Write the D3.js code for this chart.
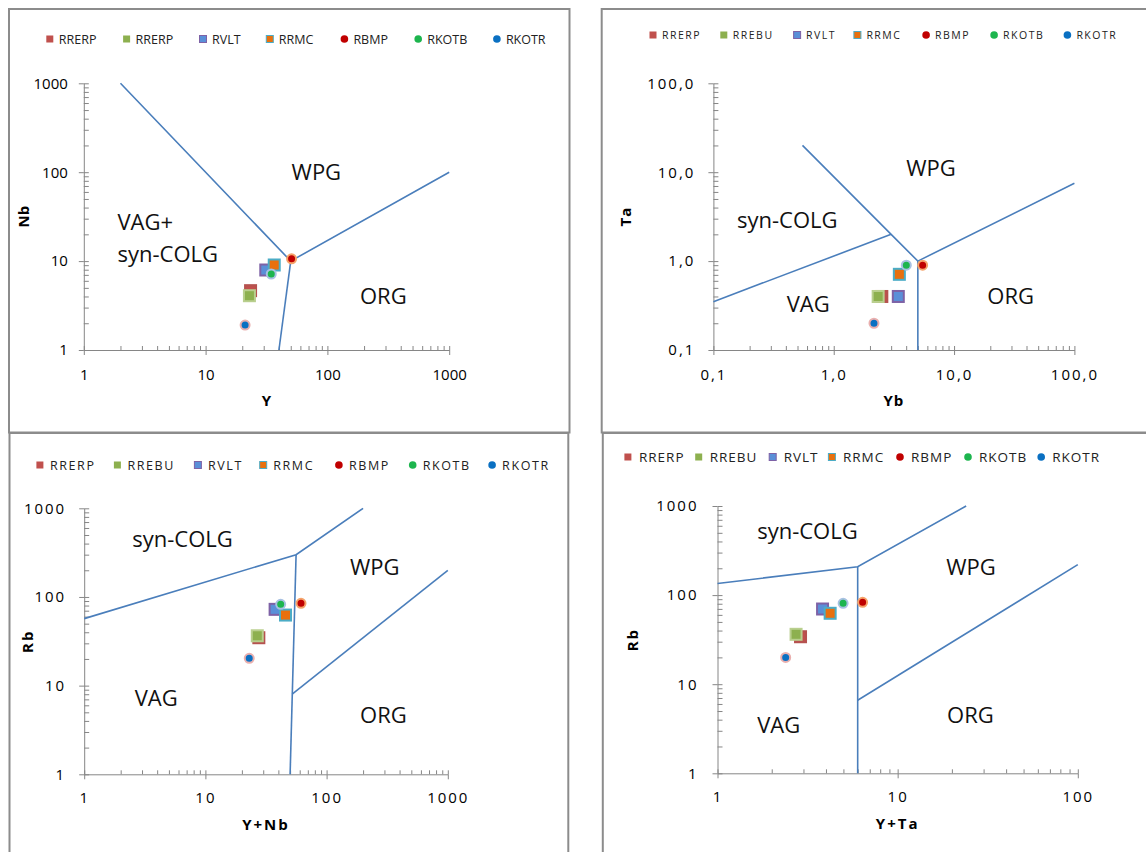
<!DOCTYPE html>
<html>
<head>
<meta charset="utf-8">
<script src="https://cdn.jsdelivr.net/npm/d3@7/dist/d3.min.js"></script>
<style>
  body { margin: 0; background: #fff; }
  svg text { font-family: 'Open Sans', sans-serif; }
</style>
</head>
<body>
<div id="wrapper"></div>
<script>
// Series names (the top-left chart repeats RRERP in its legend)
const namesYNb = ['RRERP', 'RRERP', 'RVLT', 'RRMC', 'RBMP', 'RKOTB', 'RKOTR'];
const seriesNames = ['RRERP', 'RREBU', 'RVLT', 'RRMC', 'RBMP', 'RKOTB', 'RKOTR'];

// Nb vs Y
const yValues = [23.4, 22.9, 31.2, 36.6, 50.8, 34.6, 21.1];
const nbValues = [4.65, 4.08, 7.94, 9.04, 10.6, 7.16, 1.91];
// Ta vs Yb
const ybValues = [2.51, 2.34, 3.44, 3.51, 5.48, 4.01, 2.16];
const taValues = [0.4, 0.4, 0.4, 0.71, 0.9, 0.9, 0.2];
// Rb vs Y+Nb
const yNbValues = [27.6, 26.8, 37.6, 45.8, 61.5, 41.8, 23.0];
const rbValues1 = [34.7, 36.5, 72.5, 62.5, 84.7, 82.6, 20.3];
// Rb vs Y+Ta
const yTaValues = [2.89, 2.73, 3.83, 4.22, 6.39, 4.98, 2.39];
const rbValues2 = [34.1, 36.3, 69.8, 62.5, 83.0, 80.9, 20.0];

// Discrimination boundaries (Pearce et al.)
const linesYNb = [
  [[2, 1000], [50, 10], [1000, 100]],
  [[50, 10], [40, 1]],
];
const linesYbTa = [
  [[0.55, 20], [3, 2], [5, 1], [100, 7.5]],
  [[0.1, 0.35], [3, 2]],
  [[5, 1], [5, 0.1]],
];
const linesYNbRb = [
  [[1, 57], [56, 300], [200, 1000]],
  [[56, 300], [50, 1]],
  [[52, 8], [1000, 200]],
];
const linesYTaRb = [
  [[1, 135], [6, 208], [24, 1000]],
  [[6, 208], [6, 1]],
  [[6, 6.6], [100, 220]],
];

// Field names and where they sit (data units)
const fieldsYNb = [
  ['WPG', 50.8, 81.7], ['VAG+', 1.89, 22.4], ['syn-COLG', 1.89, 9.77], ['ORG', 185, 3.29],
];
const fieldsYbTa = [
  ['WPG', 4.01, 9.06], ['syn-COLG', 0.157, 2.36], ['VAG', 0.406, 0.267], ['ORG', 18.9, 0.329],
];
const fieldsYNbRb = [
  ['syn-COLG', 2.49, 366], ['WPG', 156, 177], ['VAG', 2.61, 5.89], ['ORG', 189, 3.79],
];
const fieldsYTaRb = [
  ['syn-COLG', 1.66, 426], ['WPG', 18.6, 168], ['VAG', 1.66, 2.83], ['ORG', 18.8, 3.67],
];

const ticks1to1000 = [1, 10, 100, 1000];
const ticks01to100 = [0.1, 1, 10, 100];
const ticks1to100 = [1, 10, 100];

const markerStyle = [
  { shape: 'square', fill: '#C0504D', stroke: '#B5524F' },
  { shape: 'square', fill: '#8DB04F', stroke: '#B9CF8E' },
  { shape: 'square', fill: '#5A8FD8', stroke: '#7E62A6' },
  { shape: 'square', fill: '#E8700E', stroke: '#4BACC6' },
  { shape: 'circle', fill: '#C00000', stroke: '#F5A36A' },
  { shape: 'circle', fill: '#1DB54E', stroke: '#A8C1E2' },
  { shape: 'circle', fill: '#0A70C2', stroke: '#E9AFAE' },
];

const commaFmt = (d) => d3.format('.1f')(d).replace('.', ',');

const panels = [
  {
    names: namesYNb, xs: yValues, ys: nbValues, lines: linesYNb, fields: fieldsYNb,
    xTicks: ticks1to1000, yTicks: ticks1to1000, fmt: (d) => d,
    xTitle: 'Y', yTitle: 'Nb',
    frame: [9, 9, 569.5, 432.5],
    plot: { left: 83.8, right: 449.2, top: 83.3, bottom: 350 },
    padX: 14, padY: 11, tickSpacing: 0, titleSpacing: 0, yTitleX: 24,
    legendY: 39, legendX: [49.8, 126.6, 203, 269.8, 344.4, 418.2, 496.9],
    legendFont: 12.5, legendSpacing: 0, legendGap: 9,
  },
  {
    names: seriesNames, xs: ybValues, ys: taValues, lines: linesYbTa, fields: fieldsYbTa,
    xTicks: ticks01to100, yTicks: ticks01to100, fmt: commaFmt,
    xTitle: 'Yb', yTitle: 'Ta',
    frame: [601.7, 9, 1160, 432.5],
    plot: { left: 713.4, right: 1074.4, top: 83.3, bottom: 350 },
    padX: 14, padY: 13, tickSpacing: 2, titleSpacing: 1, yTitleX: 626,
    legendY: 35, legendX: [653, 723.8, 797.1, 857.4, 926.1, 994.1, 1067.4],
    legendFont: 10.5, legendSpacing: 1.5, legendGap: 9,
  },
  {
    names: seriesNames, xs: yNbValues, ys: rbValues1, lines: linesYNbRb, fields: fieldsYNbRb,
    xTicks: ticks1to1000, yTicks: ticks1to1000, fmt: (d) => d,
    xTitle: 'Y+Nb', yTitle: 'Rb',
    frame: [9.5, 433, 568.3, 870],
    plot: { left: 84.2, right: 447.8, top: 508.3, bottom: 774.3 },
    padX: 13, padY: 13, tickSpacing: 2, titleSpacing: 2, yTitleX: 27.7,
    legendY: 465, legendX: [39.9, 117.4, 197.9, 263.2, 338.9, 412.7, 492.1],
    legendFont: 12.5, legendSpacing: 1.6, legendGap: 10,
  },
  {
    names: seriesNames, xs: yTaValues, ys: rbValues2, lines: linesYTaRb, fields: fieldsYTaRb,
    xTicks: ticks1to100, yTicks: ticks1to1000, fmt: (d) => d,
    xTitle: 'Y+Ta', yTitle: 'Rb',
    frame: [602.8, 433, 1160, 870],
    plot: { left: 717.5, right: 1077.8, top: 506, bottom: 773.3 },
    padX: 13, padY: 14, tickSpacing: 2, titleSpacing: 2, yTitleX: 633,
    legendY: 457, legendX: [627.9, 698.7, 772.7, 831.9, 900, 968, 1041.2],
    legendFont: 13.5, legendSpacing: 1, legendGap: 11,
  },
];

const svg = d3
  .select('#wrapper')
  .append('svg')
  .attr('width', 1146)
  .attr('height', 852);

svg.append('rect').attr('width', 1146).attr('height', 852).attr('fill', '#fff');

const axisColor = '#868686';
const lineColor = '#4A7EBB';

function minorTicks(majors) {
  const out = [];
  majors.slice(0, -1).forEach((m) => {
    for (let k = 2; k <= 9; k++) out.push(m * k);
  });
  return out;
}

function drawMarker(sel, style, cx, cy, size) {
  if (style.shape === 'square') {
    sel
      .append('rect')
      .attr('x', cx - size / 2)
      .attr('y', cy - size / 2)
      .attr('width', size)
      .attr('height', size)
      .attr('fill', style.fill)
      .attr('stroke', style.stroke)
      .attr('stroke-width', 2);
  } else {
    sel
      .append('circle')
      .attr('cx', cx)
      .attr('cy', cy)
      .attr('r', size / 2 - 1)
      .attr('fill', style.fill)
      .attr('stroke', style.stroke)
      .attr('stroke-width', 2);
  }
}

function drawPanel(p) {
  const g = svg.append('g');

  // frame
  g.append('rect')
    .attr('x', p.frame[0])
    .attr('y', p.frame[1])
    .attr('width', p.frame[2] - p.frame[0])
    .attr('height', p.frame[3] - p.frame[1])
    .attr('fill', 'none')
    .attr('stroke', '#8c8c8c')
    .attr('stroke-width', 2);

  const xScale = d3
    .scaleLog()
    .domain(d3.extent(p.xTicks))
    .range([p.plot.left, p.plot.right]);
  const yScale = d3
    .scaleLog()
    .domain(d3.extent(p.yTicks))
    .range([p.plot.bottom, p.plot.top]);

  // inner ticks (minor + major)
  g.append('g')
    .attr('transform', `translate(0, ${p.plot.bottom})`)
    .call(
      d3.axisBottom(xScale)
        .tickValues(p.xTicks.concat(minorTicks(p.xTicks)))
        .tickSize(-4)
        .tickFormat('')
    )
    .call((s) => s.select('.domain').remove());
  g.append('g')
    .attr('transform', `translate(${p.plot.left}, 0)`)
    .call(
      d3.axisLeft(yScale)
        .tickValues(p.yTicks.concat(minorTicks(p.yTicks)))
        .tickSize(-5)
        .tickFormat('')
    )
    .call((s) => s.select('.domain').remove());

  // major axes
  const xAxis = g
    .append('g')
    .attr('transform', `translate(0, ${p.plot.bottom})`)
    .call(
      d3.axisBottom(xScale)
        .tickValues(p.xTicks)
        .tickSizeInner(5)
        .tickSizeOuter(0)
        .tickPadding(p.padX)
        .tickFormat(p.fmt)
    );
  const yAxis = g
    .append('g')
    .attr('transform', `translate(${p.plot.left}, 0)`)
    .call(
      d3.axisLeft(yScale)
        .tickValues(p.yTicks)
        .tickSizeInner(5)
        .tickSizeOuter(0)
        .tickPadding(p.padY)
        .tickFormat(p.fmt)
    );

  g.selectAll('.tick line, .domain')
    .attr('stroke', axisColor)
    .attr('stroke-width', 1);
  [xAxis, yAxis].forEach((a) =>
    a.selectAll('text')
      .attr('fill', '#000')
      .style('font-size', '15px')
      .style('letter-spacing', p.tickSpacing + 'px')
  );

  // axis titles
  g.append('text')
    .attr('x', (p.plot.left + p.plot.right) / 2)
    .attr('y', p.plot.bottom + 56)
    .attr('text-anchor', 'middle')
    .style('font-size', '15px')
    .style('font-weight', 'bold')
    .style('letter-spacing', p.titleSpacing + 'px')
    .text(p.xTitle);
  g.append('text')
    .attr('transform', `translate(${p.yTitleX}, ${(p.plot.top + p.plot.bottom) / 2}) rotate(-90)`)
    .attr('text-anchor', 'middle')
    .attr('dy', '0.35em')
    .style('font-size', '15px')
    .style('font-weight', 'bold')
    .style('letter-spacing', p.titleSpacing + 'px')
    .text(p.yTitle);

  // boundaries
  const line = d3
    .line()
    .x((d) => xScale(d[0]))
    .y((d) => yScale(d[1]));
  g.selectAll('.boundary')
    .data(p.lines)
    .enter()
    .append('path')
    .attr('class', 'boundary')
    .attr('d', line)
    .attr('fill', 'none')
    .attr('stroke', lineColor)
    .attr('stroke-width', 1.6);

  // field names
  g.selectAll('.field')
    .data(p.fields)
    .enter()
    .append('text')
    .attr('class', 'field')
    .attr('x', (d) => xScale(d[1]))
    .attr('y', (d) => yScale(d[2]))
    .style('font-size', '22px')
    .attr('fill', '#111')
    .text((d) => d[0]);

  // samples
  const dots = g.append('g');
  p.xs.forEach((v, i) => {
    drawMarker(dots, markerStyle[i], xScale(v), yScale(p.ys[i]), 11);
  });

  // legend
  const legend = g.append('g');
  p.names.forEach((name, i) => {
    const st = markerStyle[i];
    const lx = p.legendX[i];
    if (st.shape === 'square') {
      legend
        .append('rect')
        .attr('x', lx - 3.5)
        .attr('y', p.legendY - 3.5)
        .attr('width', 7)
        .attr('height', 7)
        .attr('fill', st.fill)
        .attr('stroke', i === 2 || i === 3 ? st.stroke : 'none')
        .attr('stroke-width', 1);
    } else {
      legend
        .append('circle')
        .attr('cx', lx)
        .attr('cy', p.legendY)
        .attr('r', 3.8)
        .attr('fill', st.fill);
    }
    legend
      .append('text')
      .attr('x', lx + p.legendGap)
      .attr('y', p.legendY)
      .attr('dy', '0.36em')
      .attr('fill', '#222')
      .style('font-size', p.legendFont + 'px')
      .style('letter-spacing', p.legendSpacing + 'px')
      .text(name);
  });
}

panels.forEach(drawPanel);
</script>
</body>
</html>
